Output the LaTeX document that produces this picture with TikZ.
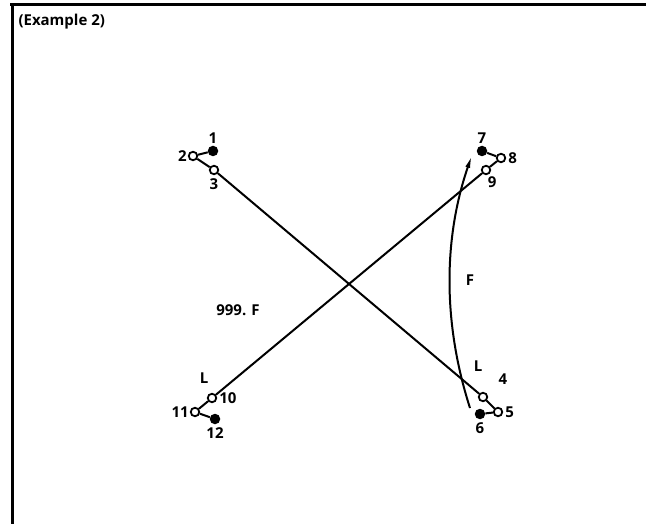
\documentclass[tikz,border=0pt]{standalone}
\usepackage{fontspec}
\setmainfont{Open Sans}
\usepackage{tikz}
\usetikzlibrary{positioning,arrows.meta}

\begin{document}
\begin{tikzpicture}[
    x=1pt, y=-1pt,
    font=\fontsize{15}{17}\selectfont\bfseries,
    node distance=2pt,
    open_pin/.style={circle, draw, fill=white, line width=1.8pt, inner sep=0pt, minimum size=8.5pt},
    full_pin/.style={circle, fill=black, inner sep=0pt, minimum size=10.5pt},
    pin_lbl/.style={inner sep=1pt},
    link/.style={line width=2pt},
    arrow/.style={-{Latex[length=13pt,width=5pt]}, line width=2pt}
]
\useasboundingbox (0,0) rectangle (646,524);

% Frame
\draw [line width=3pt] (10,5) -- (646,5);
\draw [line width=3pt] (12,4) -- (12,524);
\node (title) [anchor=west] at (15,22) {(Example 2)};

% Upper left terminal
\node (p1) [full_pin] at (213,151) {};
\node (p2) [open_pin] at (193,156) {};
\node (p3) [open_pin] at (214,170) {};
\node (l1) [pin_lbl, above=1pt of p1] {1};
\node (l2) [pin_lbl, left=0pt of p2] {2};
\node (l3) [pin_lbl, below=2pt of p3] {3};

% Upper right terminal
\node (p7) [full_pin] at (482,151) {};
\node (p8) [open_pin] at (501,158) {};
\node (p9) [open_pin] at (486,170) {};
\node (l7) [pin_lbl, above=1pt of p7] {7};
\node (l8) [pin_lbl, right=1pt of p8] {8};
\node (l9) [pin_lbl, below right=2pt and -3pt of p9] {9};

% Lower right terminal
\node (p4) [open_pin] at (483,397) {};
\node (p5) [open_pin] at (498,412) {};
\node (p6) [full_pin] at (480,414) {};
\node (l4) [pin_lbl] at (503,379) {4};
\node (l5) [pin_lbl, right=1pt of p5] {5};
\node (l6) [pin_lbl, below=2pt of p6] {6};

% Lower left terminal
\node (p10) [open_pin] at (212,398) {};
\node (p11) [open_pin] at (195,412) {};
\node (p12) [full_pin] at (215,419) {};
\node (l10) [pin_lbl, right=1pt of p10] {10};
\node (l11) [pin_lbl, left=0pt of p11] {11};
\node (l12) [pin_lbl, below=2pt of p12] {12};

% Texts
\node (lw) [pin_lbl] at (204,378) {L};
\node (le) [pin_lbl] at (478,366) {L};
\node (fw) [pin_lbl] at (238,310) {999. F};
\node (fe) [pin_lbl] at (470,280) {F};

% Wires
\draw [link] (p1) -- (p2) -- (p3) -- (p4) -- (p5) -- (p6);
\draw [link] (p7) -- (p8) -- (p9) -- (p10) -- (p11) -- (p12);

% Force arrow
\coordinate (fbot) at (470,408);
\coordinate (ftop) at (472,155);
\draw [arrow] (fbot) .. controls (443,324) and (443,239) .. (ftop);

\end{tikzpicture}
\end{document}
